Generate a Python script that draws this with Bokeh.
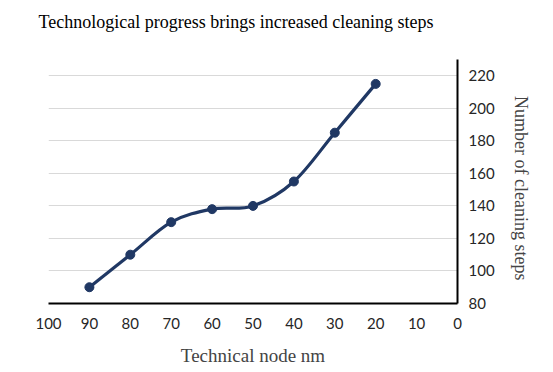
import numpy as np
from bokeh.plotting import figure
from bokeh.models import LinearAxis, Range1d, FixedTicker, ColumnDataSource, Title
from bokeh.embed import file_html
from bokeh.resources import INLINE

# Data
node_nm = [90, 80, 70, 60, 50, 40, 30, 20]
cleaning_steps = [90, 110, 130, 138, 140, 155, 185, 215]
x_ticks = [100, 90, 80, 70, 60, 50, 40, 30, 20, 10, 0]
y_ticks = [80, 100, 120, 140, 160, 180, 200, 220]

title_text = "Technological progress brings increased cleaning steps"
x_label = "Technical node nm"
y_label = "Number of cleaning steps"

LINE = "#203864"
SERIF = "Liberation Serif"
SANS = "Lato"

p = figure(width=553, height=372, output_backend="svg", toolbar_location=None,
           x_range=Range1d(100, 0), y_range=Range1d(80, 230),
           min_border_left=48, min_border_right=96, min_border_top=59, min_border_bottom=69,
           y_axis_location=None)
p.outline_line_color = None
p.background_fill_color = "white"
p.border_fill_color = "white"

# real title, with a blank spacer title between it and the frame
p.title.text = title_text
p.title.text_font = SERIF
p.title.text_font_size = "18px"
p.title.text_font_style = "normal"
p.title.text_color = "black"
p.title.align = "left"
p.title.offset = -10
p.title.standoff = 11
p.add_layout(Title(text="\u00a0", text_font_size="18px", standoff=0), "above")

# x axis
xa = p.xaxis[0]
xa.ticker = FixedTicker(ticks=x_ticks)
xa.axis_line_color = "black"
xa.axis_line_width = 2
xa.major_tick_line_color = None
xa.minor_tick_line_color = None
xa.major_label_text_font = SANS
xa.major_label_text_font_size = "15px"
xa.major_label_text_color = "#262626"
xa.major_label_standoff = 8
xa.axis_label = x_label
xa.axis_label_text_font = SERIF
xa.axis_label_text_font_size = "19px"
xa.axis_label_text_font_style = "normal"
xa.axis_label_standoff = 13

# right y axis
ya = LinearAxis(ticker=FixedTicker(ticks=y_ticks))
ya.axis_line_color = "black"
ya.axis_line_width = 2
ya.major_tick_line_color = None
ya.minor_tick_line_color = None
ya.major_label_text_font = SANS
ya.major_label_text_font_size = "15px"
ya.major_label_text_color = "#262626"
ya.major_label_standoff = 5
ya.axis_label = "\u00a0\u00a0\u00a0" + y_label
ya.axis_label_text_font = SERIF
ya.axis_label_text_font_size = "18px"
ya.axis_label_text_font_style = "normal"
ya.axis_label_standoff = 13
p.add_layout(ya, "right")

p.xgrid.visible = False
p.ygrid.ticker = FixedTicker(ticks=y_ticks[1:])
p.ygrid.grid_line_color = "#d9d9d9"
p.ygrid.grid_line_width = 1

# smooth curve (Catmull-Rom style Bezier segments through the data points)
xs = np.array(node_nm, dtype=float)
ys = np.array(cleaning_steps, dtype=float)
n = len(xs)
x0, y0, x1, y1, cx0, cy0, cx1, cy1 = [], [], [], [], [], [], [], []
for i in range(n - 1):
    im1 = max(i - 1, 0)
    ip2 = min(i + 2, n - 1)
    x0.append(xs[i]); y0.append(ys[i])
    x1.append(xs[i + 1]); y1.append(ys[i + 1])
    cx0.append(xs[i] + (xs[i + 1] - xs[im1]) / 6)
    cy0.append(ys[i] + (ys[i + 1] - ys[im1]) / 6)
    cx1.append(xs[i + 1] - (xs[ip2] - xs[i]) / 6)
    cy1.append(ys[i + 1] - (ys[ip2] - ys[i]) / 6)
bsrc = ColumnDataSource(dict(x0=x0, y0=y0, x1=x1, y1=y1, cx0=cx0, cy0=cy0, cx1=cx1, cy1=cy1))
p.bezier(x0="x0", y0="y0", x1="x1", y1="y1", cx0="cx0", cy0="cy0", cx1="cx1", cy1="cy1",
         source=bsrc, line_color=LINE, line_width=3.2)

p.scatter(node_nm, cleaning_steps, size=9, fill_color=LINE, line_color=LINE)

open("out.html", "w").write(file_html(p, INLINE))
